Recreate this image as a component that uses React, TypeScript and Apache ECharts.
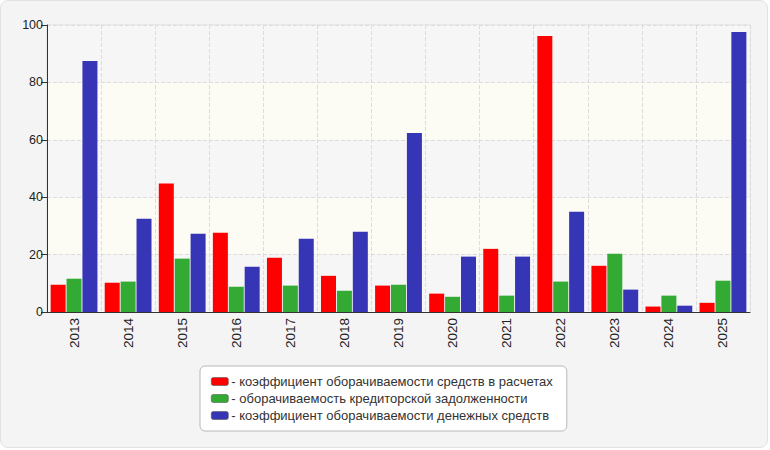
import React, { useEffect, useRef } from "react";
import * as echarts from "echarts";

const years = ["2013","2014","2015","2016","2017","2018","2019","2020","2021","2022","2023","2024","2025"];
const seriesNames = [
  "коэффициент оборачиваемости средств в расчетах",
  "оборачиваемость кредиторской задолженности",
  "коэффициент оборачиваемости денежных средств",
];
const redValues = [9.5, 10.2, 44.8, 27.6, 18.9, 12.6, 9.2, 6.4, 22.0, 96.2, 16.1, 1.9, 3.2];
const greenValues = [11.6, 10.6, 18.6, 8.8, 9.2, 7.4, 9.5, 5.3, 5.7, 10.6, 20.3, 5.7, 10.9];
const blueValues = [87.5, 32.5, 27.3, 15.8, 25.5, 28.0, 62.4, 19.3, 19.3, 34.9, 7.8, 2.2, 97.6];
const colors = ["#ff0000", "#33aa33", "#3535b5"];

export default function App() {
  const ref = useRef<HTMLDivElement>(null);
  useEffect(() => {
    document.body.style.margin = "0";
    const chart = echarts.init(ref.current!, null, { renderer: "svg" });
    const font = "'Liberation Sans', Arial, sans-serif";
    const data = [redValues, greenValues, blueValues];
    chart.setOption({
      animation: false,
      textStyle: { fontFamily: font },
      grid: { left: 47, right: 20, top: 25, bottom: 138, show: true, borderColor: "#dddddd", borderWidth: 1 },
      legend: {
        orient: "vertical",
        left: 200,
        top: 366,
        padding: [9, 14, 9, 11],
        backgroundColor: "#ffffff",
        borderColor: "#b8b8b8",
        borderWidth: 1,
        borderRadius: 5,
        itemWidth: 17,
        itemHeight: 8,
        itemGap: 4,
        icon: "roundRect",
        itemStyle: { borderColor: "#555", borderWidth: 0.6 },
        formatter: (name: string) => "- " + name,
        textStyle: { fontSize: 13, color: "#333", fontFamily: font, padding: [0, 0, 0, -2] },
        data: seriesNames,
      },
      xAxis: {
        type: "category",
        data: years,
        axisLine: { lineStyle: { color: "#333" } },
        axisTick: { alignWithLabel: true, length: 4, lineStyle: { color: "#333" } },
        axisLabel: { rotate: 90, fontSize: 13.5, color: "#222", margin: 6 },
        splitLine: { show: true, lineStyle: { type: "dashed", color: "#dcdcdc" } },
      },
      yAxis: {
        type: "value",
        min: 0,
        max: 100,
        interval: 20,
        axisLine: { show: true, lineStyle: { color: "#333" } },
        axisTick: { show: true, length: 6, lineStyle: { color: "#333" } },
        axisLabel: { fontSize: 12.5, color: "#222", margin: 4 },
        splitLine: { lineStyle: { type: "dashed", color: "#dcdcdc" } },
        splitArea: { show: true, areaStyle: { color: ["#f6f6f6", "#fcfcf5"] } },
      },
      series: seriesNames.map((name, i) => ({
        name,
        type: "bar",
        data: data[i],
        barWidth: 15,
        barGap: "6%",
        itemStyle: { color: colors[i] },
      })),
    });
    return () => chart.dispose();
  }, []);
  return (
    <div style={{ width: 770, height: 450, background: "#ffffff", position: "relative" }}>
      <div
        style={{
          position: "absolute",
          left: 0,
          top: 0,
          width: 766,
          height: 446,
          background: "#f4f4f4",
          border: "1px solid #e2e2e2",
          borderRadius: 8,
        }}
      />
      <div ref={ref} style={{ position: "absolute", left: 0, top: 0, width: 770, height: 450 }} />
    </div>
  );
}
